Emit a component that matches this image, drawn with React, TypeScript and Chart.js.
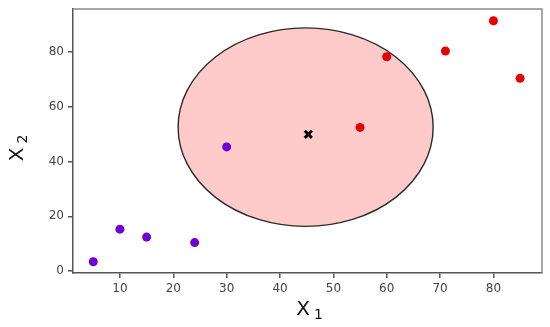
import React, { useEffect, useRef } from "react";
import { Chart, registerables } from "chart.js";

Chart.register(...registerables);

const clusterA = [
  { x: 5, y: 3.4 },
  { x: 10, y: 15.3 },
  { x: 15, y: 12.4 },
  { x: 24, y: 10.4 },
  { x: 30, y: 45.3 },
];
const clusterB = [
  { x: 55, y: 52.4 },
  { x: 60, y: 78.2 },
  { x: 71, y: 80.3 },
  { x: 80, y: 91.3 },
  { x: 85, y: 70.3 },
];
const centroid = [{ x: 45.3, y: 49.9 }];
const ellipseCenter = { x: 44.8, y: 52.5 };
const ellipseRadius = { x: 23.9, y: 36.2 };
const xTicks = [10, 20, 30, 40, 50, 60, 70, 80];
const yTicks = [0, 20, 40, 60, 80];
const xRange = [1.2, 89.1];
const yRange = [-0.7, 95.6];
const xTitle = ["X", "1"];
const yTitle = ["X", "2"];

function drawSubTitle(ctx: CanvasRenderingContext2D, parts: string[]) {
  ctx.font = "20px 'DejaVu Sans'";
  const w1 = ctx.measureText(parts[0]).width;
  ctx.font = "14px 'DejaVu Sans'";
  const w2 = ctx.measureText(parts[1]).width;
  const gap = 4;
  const total = w1 + gap + w2;
  ctx.textBaseline = "alphabetic";
  ctx.textAlign = "left";
  ctx.fillStyle = "#111";
  ctx.font = "20px 'DejaVu Sans'";
  ctx.fillText(parts[0], -total / 2, 0);
  ctx.font = "14px 'DejaVu Sans'";
  ctx.fillText(parts[1], -total / 2 + w1 + gap, 4);
}

const ellipsePlugin = {
  id: "ellipsePlugin",
  beforeDatasetsDraw(chart: any) {
    const { ctx, scales } = chart;
    const xs = scales.x;
    const ys = scales.y;
    const cx = xs.getPixelForValue(ellipseCenter.x);
    const cy = ys.getPixelForValue(ellipseCenter.y);
    const rx = Math.abs(xs.getPixelForValue(ellipseCenter.x + ellipseRadius.x) - cx);
    const ry = Math.abs(ys.getPixelForValue(ellipseCenter.y + ellipseRadius.y) - cy);
    ctx.save();
    ctx.beginPath();
    ctx.ellipse(cx, cy, rx, ry, 0, 0, Math.PI * 2);
    ctx.fillStyle = "#ffcaca";
    ctx.fill();
    ctx.lineWidth = 1.4;
    ctx.strokeStyle = "#2a2a2a";
    ctx.stroke();
    ctx.restore();
  },
  afterDraw(chart: any) {
    const { ctx, chartArea } = chart;
    ctx.save();
    ctx.strokeStyle = "#8a8a8a";
    ctx.lineWidth = 1.5;
    ctx.beginPath();
    ctx.moveTo(chartArea.left, chartArea.top);
    ctx.lineTo(chartArea.right, chartArea.top);
    ctx.lineTo(chartArea.right, chartArea.bottom);
    ctx.stroke();
    ctx.restore();

    ctx.save();
    ctx.translate((chartArea.left + chartArea.right) / 2 + 2, 315);
    drawSubTitle(ctx, xTitle);
    ctx.restore();

    ctx.save();
    ctx.translate(23, (chartArea.top + chartArea.bottom) / 2 + 7);
    ctx.rotate(-Math.PI / 2);
    drawSubTitle(ctx, yTitle);
    ctx.restore();
  },
};

export default function App() {
  const ref = useRef<HTMLCanvasElement>(null);
  useEffect(() => {
    document.body.style.margin = "0";
    const canvas = ref.current!;
    const chart = new Chart(canvas, {
      type: "scatter",
      data: {
        datasets: [
          {
            data: clusterA,
            backgroundColor: "#6d00d6",
            borderColor: "#6d00d6",
            pointRadius: 4.5,
            borderWidth: 0,
          },
          {
            data: clusterB,
            backgroundColor: "#e60000",
            borderColor: "#e60000",
            pointRadius: 4.5,
            borderWidth: 0,
          },
          {
            data: centroid,
            pointStyle: "crossRot",
            pointRadius: 5,
            borderColor: "#000",
            backgroundColor: "#000",
            borderWidth: 3,
          },
        ],
      },
      options: {
        animation: false,
        responsive: false,
        devicePixelRatio: 1,
        layout: { padding: { top: 9, right: 8, left: 0, bottom: 0 } },
        plugins: { legend: { display: false }, tooltip: { enabled: false } },
        scales: {
          x: {
            type: "linear",
            min: xRange[0],
            max: xRange[1],
            afterBuildTicks: (s: any) => {
              s.ticks = xTicks.map((v) => ({ value: v }));
            },
            afterFit: (s: any) => {
              s.height = 54;
              s.paddingLeft = 0;
              s.paddingRight = 0;
            },
            grid: { drawOnChartArea: false, drawTicks: true, tickLength: 5, color: "#555", lineWidth: 1.5 },
            border: { display: true, color: "#555", width: 1.5 },
            ticks: { color: "#444", font: { family: "DejaVu Sans", size: 12 }, padding: 4, maxRotation: 0 },
          },
          y: {
            type: "linear",
            min: yRange[0],
            max: yRange[1],
            afterBuildTicks: (s: any) => {
              s.ticks = yTicks.map((v) => ({ value: v }));
            },
            afterFit: (s: any) => {
              s.width = 73;
              s.paddingTop = 0;
              s.paddingBottom = 0;
            },
            grid: { drawOnChartArea: false, drawTicks: true, tickLength: 5, color: "#555", lineWidth: 1.5 },
            border: { display: true, color: "#555", width: 1.5 },
            ticks: { color: "#444", font: { family: "DejaVu Sans", size: 12 }, padding: 4 },
          },
        },
      },
      plugins: [ellipsePlugin],
    } as any);
    return () => chart.destroy();
  }, []);
  return (
    <div style={{ width: 550, height: 327, background: "#fff" }}>
      <canvas ref={ref} width={550} height={327} style={{ display: "block" }} />
    </div>
  );
}
